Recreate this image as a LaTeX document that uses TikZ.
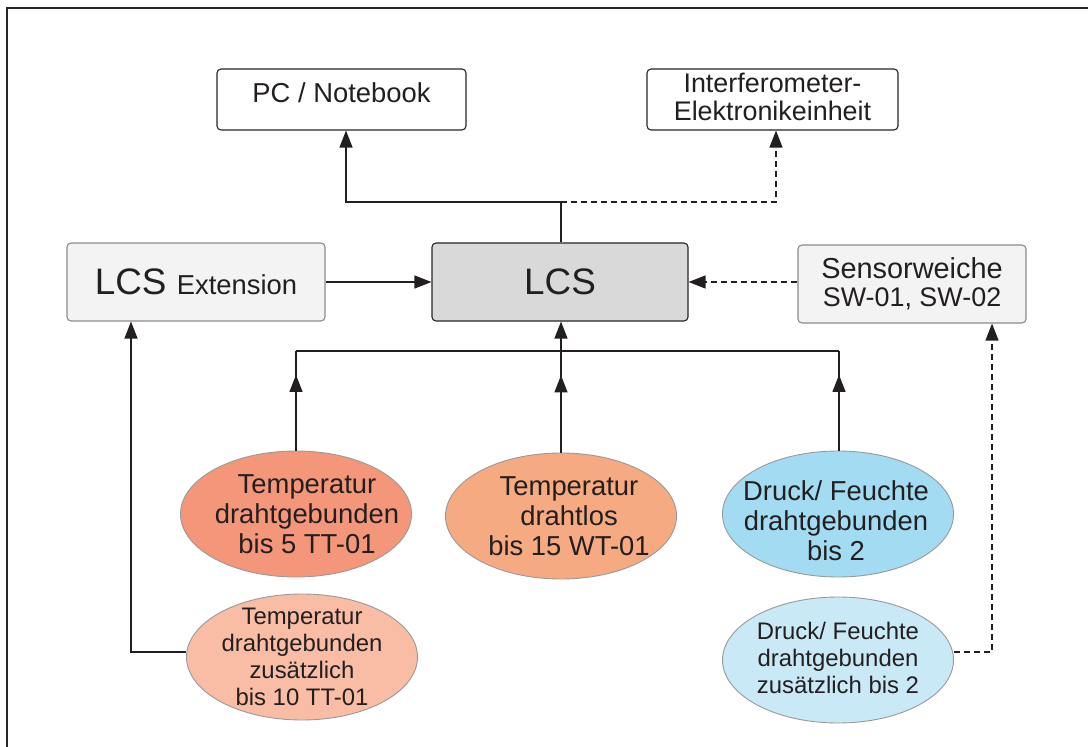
\documentclass[tikz,border=0pt]{standalone}
\usepackage{fontspec}
\setmainfont{Liberation Sans}
\usetikzlibrary{arrows.meta,shapes.geometric,decorations.markings}
\definecolor{txt}{HTML}{231F20}
\definecolor{ecA}{HTML}{F4967A}
\definecolor{ecB}{HTML}{F6AA82}
\definecolor{ecC}{HTML}{A3DCF2}
\definecolor{ecD}{HTML}{F9BDA6}
\definecolor{ecE}{HTML}{C9E9F6}
\definecolor{lgray}{HTML}{F3F3F3}
\definecolor{mgray}{HTML}{D9D9D9}
\begin{document}
\begin{tikzpicture}[x=1bp,y=-1bp,
  box/.style={draw=black!85, line width=1.1bp, rounded corners=4bp, fill=white,
    text=txt, align=center, inner sep=0pt, font=\fontsize{27}{28}\selectfont},
  gbox/.style={box, draw=black!45, fill=lgray},
  lcsbox/.style={box, draw=black!85, fill=mgray},
  ltext/.style={text=txt, align=center, inner sep=0pt, font=\fontsize{27}{28}\selectfont},
  ell/.style={ellipse, draw=black!40, line width=0.9bp, inner sep=0pt,
    minimum width=231bp, minimum height=126bp},
  etext/.style={text=txt, align=center, inner sep=0pt, font=\fontsize{27.5}{30}\selectfont},
  stext/.style={text=txt, align=center, inner sep=0pt, font=\fontsize{24}{27}\selectfont},
  conn/.style={draw=txt, line width=1.2bp},
  dconn/.style={conn, dash pattern=on 6bp off 4bp},
  tip/.style={-{Triangle[length=17bp,width=13bp]}},
  midtip/.style={postaction={decorate}, decoration={markings,
    mark=at position #1 with {\arrow{Triangle[length=17bp,width=13bp]}}}}
]
\useasboundingbox (0,0) rectangle (1088,747);
\draw[line width=2.5bp, black!85] (7,747) -- (7,8) -- (1088,8);

% boxes
\node[box, minimum width=249bp, minimum height=61bp] (pc) at (341.5,99.5) {};
\node[ltext, font=\fontsize{27.5}{28}\selectfont] (pct) at (341.5,93) {PC / Notebook};
\node[box, minimum width=251bp, minimum height=61bp] (ife) at (772.5,99.5) {};
\node[ltext] (ifet) at (772.5,97) {Interferometer-\\Elektronikeinheit};
\node[gbox, minimum width=258bp, minimum height=78bp] (ext) at (196,282)
  {\fontsize{37}{40}\selectfont LCS {\fontsize{27.5}{28}\selectfont Extension}};
\node[lcsbox, minimum width=256bp, minimum height=78bp] (lcs) at (560,282)
  {\fontsize{37}{40}\selectfont LCS};
\node[gbox, minimum width=228bp, minimum height=78bp] (sw) at (912,284)
  {\fontsize{29}{28}\selectfont Sensorweiche\\SW-01, SW-02};

% ellipses
\node[ell, fill=ecA] (e1) at (296,514) {};
\node[etext] (t1) at (307,514) {Temperatur\\drahtgebunden\\bis 5 TT-01};
\node[ell, fill=ecB] (e2) at (561,516) {};
\node[etext] (t2) at (569,516) {Temperatur\\drahtlos\\bis 15 WT-01};
\node[ell, fill=ecC] (e3) at (838,514) {};
\node[etext] (t3) at (836,521) {Druck/ Feuchte\\drahtgebunden\\bis 2};
\node[ell, fill=ecD] (e4) at (302,657) {};
\node[stext] (t4) at (302,657) {Temperatur\\drahtgebunden\\zus\"atzlich\\bis 10 TT-01};
\node[ell, fill=ecE] (e5) at (838,660) {};
\node[stext] (t5) at (838,658) {Druck/ Feuchte\\drahtgebunden\\zus\"atzlich bis 2};

% top connectors
\coordinate (jl) at (346,202);
\coordinate (jm) at (561,202);
\coordinate (jr) at (776,202);
\draw[conn] (lcs.north -| jm) -- (jm);
\draw[conn, tip] (jm) -- (jl) -- (jl |- pc.south);
\draw[dconn, tip] (jm) -- (jr) -- (jr |- ife.south);

% side connectors
\draw[conn, tip] (ext.east) -- (lcs.west);
\draw[dconn, tip] (lcs.east -| sw.west) -- (lcs.east);

% bus
\coordinate (b1) at (296,351);
\coordinate (b2) at (561,351);
\coordinate (b3) at (839,351);
\draw[conn] (b1) -- (b3);
\draw[conn, tip] (b2) -- (b2 |- lcs.south);
\draw[conn, midtip=0.76] (e1.north) -- (b1);
\draw[conn, midtip=0.76] (e2.north) -- (b2);
\draw[conn, midtip=0.76] (b3 |- e3.north) -- (b3);

% lower connectors
\coordinate (c4) at (131,652);
\draw[conn, tip] (e4.west |- c4) -- (c4) -- (c4 |- ext.south);
\coordinate (c5) at (992,652);
\draw[dconn, tip] (e5.east |- c5) -- (c5) -- (c5 |- sw.south);
\end{tikzpicture}
\end{document}
